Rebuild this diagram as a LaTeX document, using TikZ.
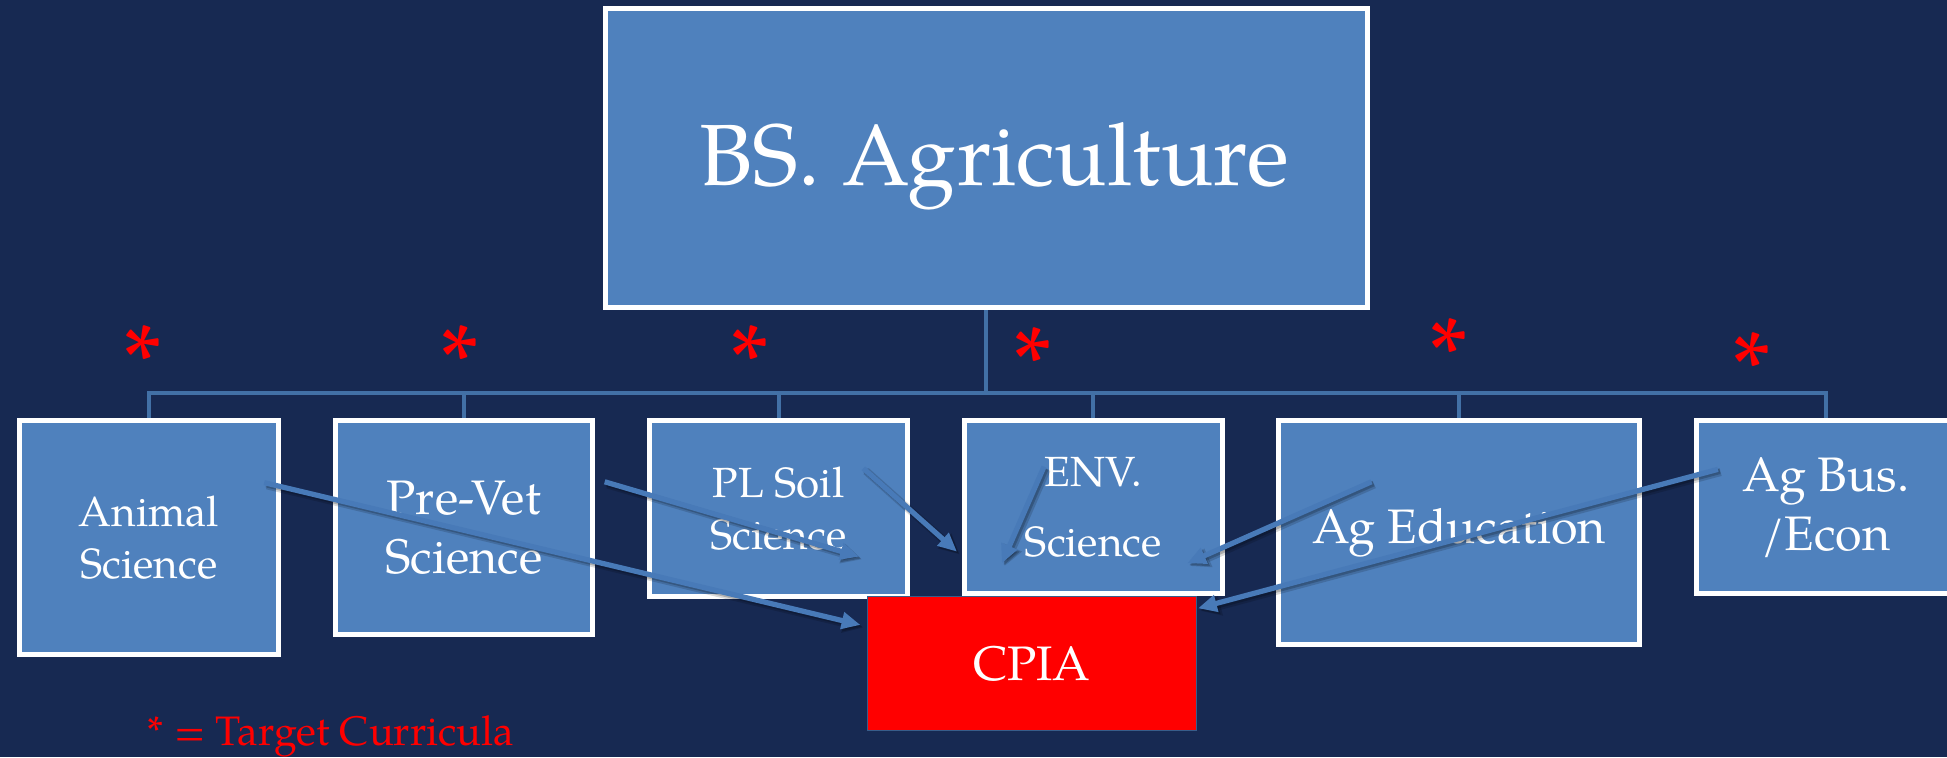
\documentclass[tikz,border=0pt]{standalone}
\usepackage{fontspec}
\setmainfont{TeX Gyre Pagella}
\usetikzlibrary{arrows.meta}
\definecolor{bgnavy}{RGB}{23,41,82}
\definecolor{boxblue}{RGB}{79,129,189}
\definecolor{arrblue}{RGB}{72,122,184}
\definecolor{lineblue}{RGB}{66,112,166}
\definecolor{cpiared}{RGB}{255,0,0}
\definecolor{cpiaborder}{RGB}{56,93,138}
\pgfdeclarelayer{bg}
\pgfsetlayers{bg,main}
\tikzset{
  unitbox/.style={draw=white, line width=2pt, fill=boxblue, text=white, align=center, inner sep=0pt, outer sep=0pt},
  conn/.style={draw=lineblue, line width=1.6pt},
  arr/.style={draw=arrblue, fill=arrblue, line width=2.1pt, -{Triangle[length=7.6pt,width=6.6pt]}},
  arrshadowA/.style={draw=black, fill=black, opacity=0.15, line width=3.2pt, -{Triangle[length=8.2pt,width=7.6pt]}, transform canvas={shift={(1.1pt,-1.1pt)}}},
  arrshadowB/.style={draw=black, fill=black, opacity=0.2, line width=2.2pt, -{Triangle[length=7.6pt,width=6.8pt]}, transform canvas={shift={(0.8pt,-0.8pt)}}},
  star/.style={text=red, font=\fontsize{40}{40}\selectfont, inner sep=0pt},
  smallfont/.style={font=\fontsize{17}{21}\selectfont},
  midfont/.style={font=\fontsize{19.5}{23.8}\selectfont},
}
\begin{document}
\begin{tikzpicture}[x=0.5pt,y=-0.5pt]
\useasboundingbox (0,0) rectangle (1568,610);
% boxes
\node[unitbox, minimum width=306.7pt, minimum height=120.4pt] (top) at (794.3,127.2) {};
\node[text=white, anchor=base, inner sep=0pt, font=\fontsize{35}{35}\selectfont] (topT) at (801,149) {BS. Agriculture};
\node[unitbox, smallfont, minimum width=104pt, minimum height=94pt] (animal) at (120,433) {Animal\\Science};
\node[unitbox, midfont, minimum width=103.5pt, minimum height=86pt] (prevet) at (373.5,425) {Pre-Vet\\Science};
\node[unitbox, smallfont, minimum width=104pt, minimum height=70.5pt] (plsoil) at (627,409.5) {PL Soil\\Science};
\node[unitbox, smallfont, minimum width=104pt, minimum height=69.5pt] (env) at (880.5,408.5) {ENV.\\[7.5pt]Science};
\node[unitbox, midfont, minimum width=145pt, minimum height=90pt] (agedu) at (1175,429) {Ag Education};
\node[unitbox, midfont, minimum width=104.5pt, minimum height=69.5pt] (agbus) at (1470.5,408.5) {Ag Bus.\\/Econ};
\node[draw=cpiaborder, line width=0.6pt, fill=cpiared, text=white, midfont, inner sep=0pt, minimum width=132.5pt, minimum height=54pt] (cpia) at (831,534.5) {CPIA};
% background and tree connectors
\begin{pgfonlayer}{bg}
\fill[bgnavy] (0,0) rectangle (1568,610);
\coordinate (bar) at (0,316.4);
\draw[conn] (animal.north) -- (animal.north |- bar) -| (agbus.north);
\draw[conn] (top.south) -- (top.south |- bar);
\draw[conn] (prevet.north) -- (prevet.north |- bar);
\draw[conn] (plsoil.north) -- (plsoil.north |- bar);
\draw[conn] (env.north) -- (env.north |- bar);
\draw[conn] (agedu.north) -- (agedu.north |- bar);
\end{pgfonlayer}
% asterisks
\node[star] (st1) at (115,290) {*};
\node[star] (st2) at (370,290) {*};
\node[star] (st3) at (603.7,290) {*};
\node[star] (st4) at (832,291.5) {*};
\node[star] (st5) at (1166.7,284) {*};
\node[star] (st6) at (1411,295.6) {*};
\node[anchor=base west, text=red, inner sep=0pt, font=\fontsize{16.6}{16.6}\selectfont] (legend) at (118.6,600) {* = Target Curricula};
% arrows
\coordinate (s1) at (212.8,388.7); \coordinate (e1) at (693,503.3);
\coordinate (s2) at (487,388);     \coordinate (e2) at (691.9,448.3);
\coordinate (s3) at (695.3,377.2); \coordinate (e3) at (770.7,444.3);
\coordinate (s4) at (840.8,375.8); \coordinate (e4) at (806.8,453.7);
\coordinate (s5) at (1104.5,388);  \coordinate (e5) at (956,453.7);
\coordinate (s6) at (1383.5,378);  \coordinate (e6) at (964.8,489.9);
\foreach \i in {1,...,6}{\draw[arrshadowA] (s\i) -- (e\i);}
\foreach \i in {1,...,6}{\draw[arrshadowB] (s\i) -- (e\i);}
\foreach \i in {1,...,6}{\draw[arr] (s\i) -- (e\i);}
\end{tikzpicture}
\end{document}
